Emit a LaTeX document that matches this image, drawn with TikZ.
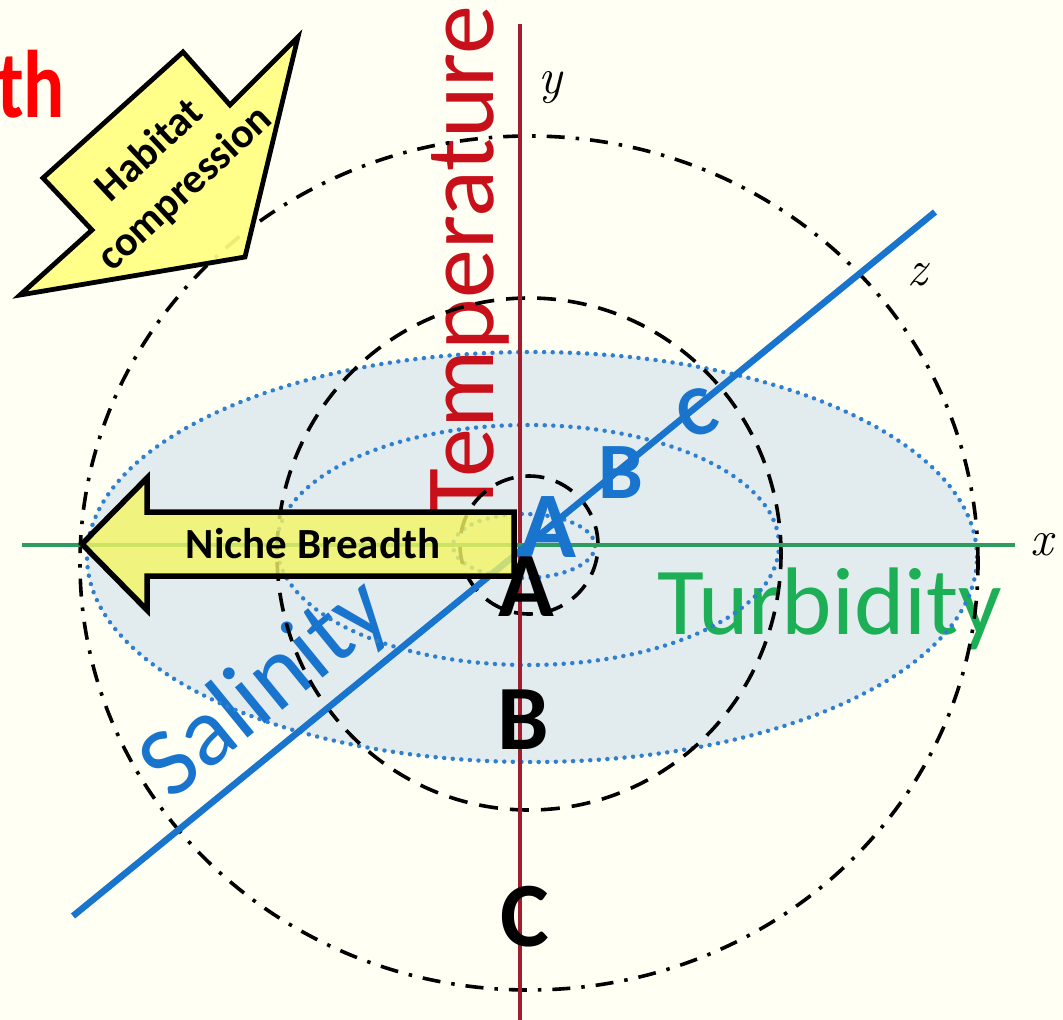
\documentclass[tikz,border=0pt]{standalone}
\usepackage{fontspec}
\newfontfamily\calib{Carlito}
\definecolor{bg}{RGB}{255,255,243}
\definecolor{nichefill}{RGB}{226,236,238}
\definecolor{tempred}{RGB}{200,16,26}
\definecolor{axisred}{RGB}{160,30,46}
\definecolor{axisgreen}{RGB}{46,155,96}
\definecolor{turbgreen}{RGB}{29,175,85}
\definecolor{salblue}{RGB}{24,116,205}
\definecolor{dotblue}{RGB}{46,127,208}
\definecolor{arrowyellow}{RGB}{255,255,128}
\definecolor{nicheyellow}{RGB}{245,245,100}
\definecolor{titlered}{RGB}{255,0,0}
\begin{document}
\begin{tikzpicture}[x=1pt,y=-1pt,
  dashcircle/.style={draw=black,line width=3.6pt,dash pattern=on 19pt off 12pt},
  dashdotcircle/.style={draw=black,line width=3.6pt,dash pattern=on 18pt off 11pt on 3.5pt off 11pt},
  dotellipse/.style={draw=dotblue,line width=4.4pt,line cap=round,dash pattern=on 0.1pt off 8.5pt},
  bigletter/.style={inner sep=0pt,font=\calib\bfseries\fontsize{92}{95}\selectfont},
  xyzlabel/.style={inner sep=0pt,font=\itshape\fontsize{50}{52}\selectfont},
  arrowshape/.style={draw=black,line width=5.5pt,line join=miter}
]
\useasboundingbox (0,0) rectangle (1063,1020);
\clip (0,0) rectangle (1063,1020);
\fill[bg] (0,0) rectangle (1063,1020);

% shaded niche ellipse
\fill[nichefill] (532,557) ellipse [x radius=445pt, y radius=205pt];

% axis texts
\node[rotate=90,anchor=base,inner sep=0pt,text=tempred,font=\calib\fontsize{98}{100}\selectfont] (temp) at (493,261) {Temperature};
\node[anchor=base west,inner sep=0pt,text=turbgreen,font=\calib\fontsize{96}{100}\selectfont] (turb) at (657,634) {Turbidity};
\node[rotate=39.2,anchor=base,inner sep=0pt,text=salblue,font=\calib\fontsize{98}{100}\selectfont] (sal) at (283,710) {Salinity};

% blue dotted ellipses
\draw[dotellipse] (532,557) ellipse [x radius=445pt, y radius=205pt];
\draw[dotellipse] (528,545) ellipse [x radius=251pt, y radius=120pt];
\draw[dotellipse] (524,546) ellipse [x radius=71pt, y radius=32pt];

% black circles
\draw[dashcircle] (529,545) circle [radius=69pt];
\draw[dashcircle] (529,554) ellipse [x radius=252pt, y radius=256pt];
\draw[dashdotcircle] (529,563) ellipse [x radius=449pt, y radius=427pt];

% axes
\coordinate (yT) at (520,24);
\coordinate (yB) at (520,1020);
\coordinate (xL) at (22,545);
\coordinate (xR) at (1015,545);
\coordinate (zL) at (73,916);
\coordinate (zR) at (935,212);
\draw[axisred,line width=3.5pt] (yT) -- (yB);
\draw[axisgreen,line width=3.8pt] (xL) -- (xR);
\draw[salblue,line width=6.5pt] (zL) -- (zR);

% axis labels
\node[xyzlabel] (ylab) at (550,88) {y};
\node[xyzlabel] (xlab) at (1042,545) {x};
\node[xyzlabel] (zlab) at (917,275) {z};

% blue letters along z
\node[bigletter,text=salblue,font=\calib\bfseries\fontsize{94}{95}\selectfont] (bA) at (548,527) {A};
\node[bigletter,text=salblue,font=\calib\bfseries\fontsize{80}{80}\selectfont] (bB) at (621,473) {B};
\node[bigletter,text=salblue,rotate=20,font=\calib\bfseries\fontsize{70}{70}\selectfont] (bC) at (697,413) {C};

% black letters along y
\node[bigletter] (kA) at (526,587) {A};
\node[bigletter] (kB) at (523,720) {B};
\node[bigletter] (kC) at (525,917) {C};

% niche breadth arrow
\draw[arrowshape,fill=nicheyellow,fill opacity=0.8] (82,544) -- (147,478) -- (147,512) -- (514,512) -- (514,576) -- (147,576) -- (147,610) -- cycle;
\node[inner sep=0pt,font=\calib\bfseries\fontsize{43}{44}\selectfont] (nb) at (313,544) {Niche Breadth};

% habitat compression arrow
\draw[arrowshape,line width=4.8pt,fill=arrowyellow,fill opacity=0.92] (20,295) -- (245,257) -- (298,37) -- (230,105) -- (183,52) -- (43,178) -- (92,230) -- cycle;
\node[rotate=43,align=center,inner sep=0pt,font=\calib\bfseries\fontsize{42}{52}\selectfont] (hc) at (168,170) {Habitat\\compression};

% partial title
\node[anchor=base east,inner sep=0pt,text=titlered,xscale=0.8,font=\calib\bfseries\fontsize{96}{100}\selectfont] (title) at (65,117) {th};
\end{tikzpicture}
\end{document}
